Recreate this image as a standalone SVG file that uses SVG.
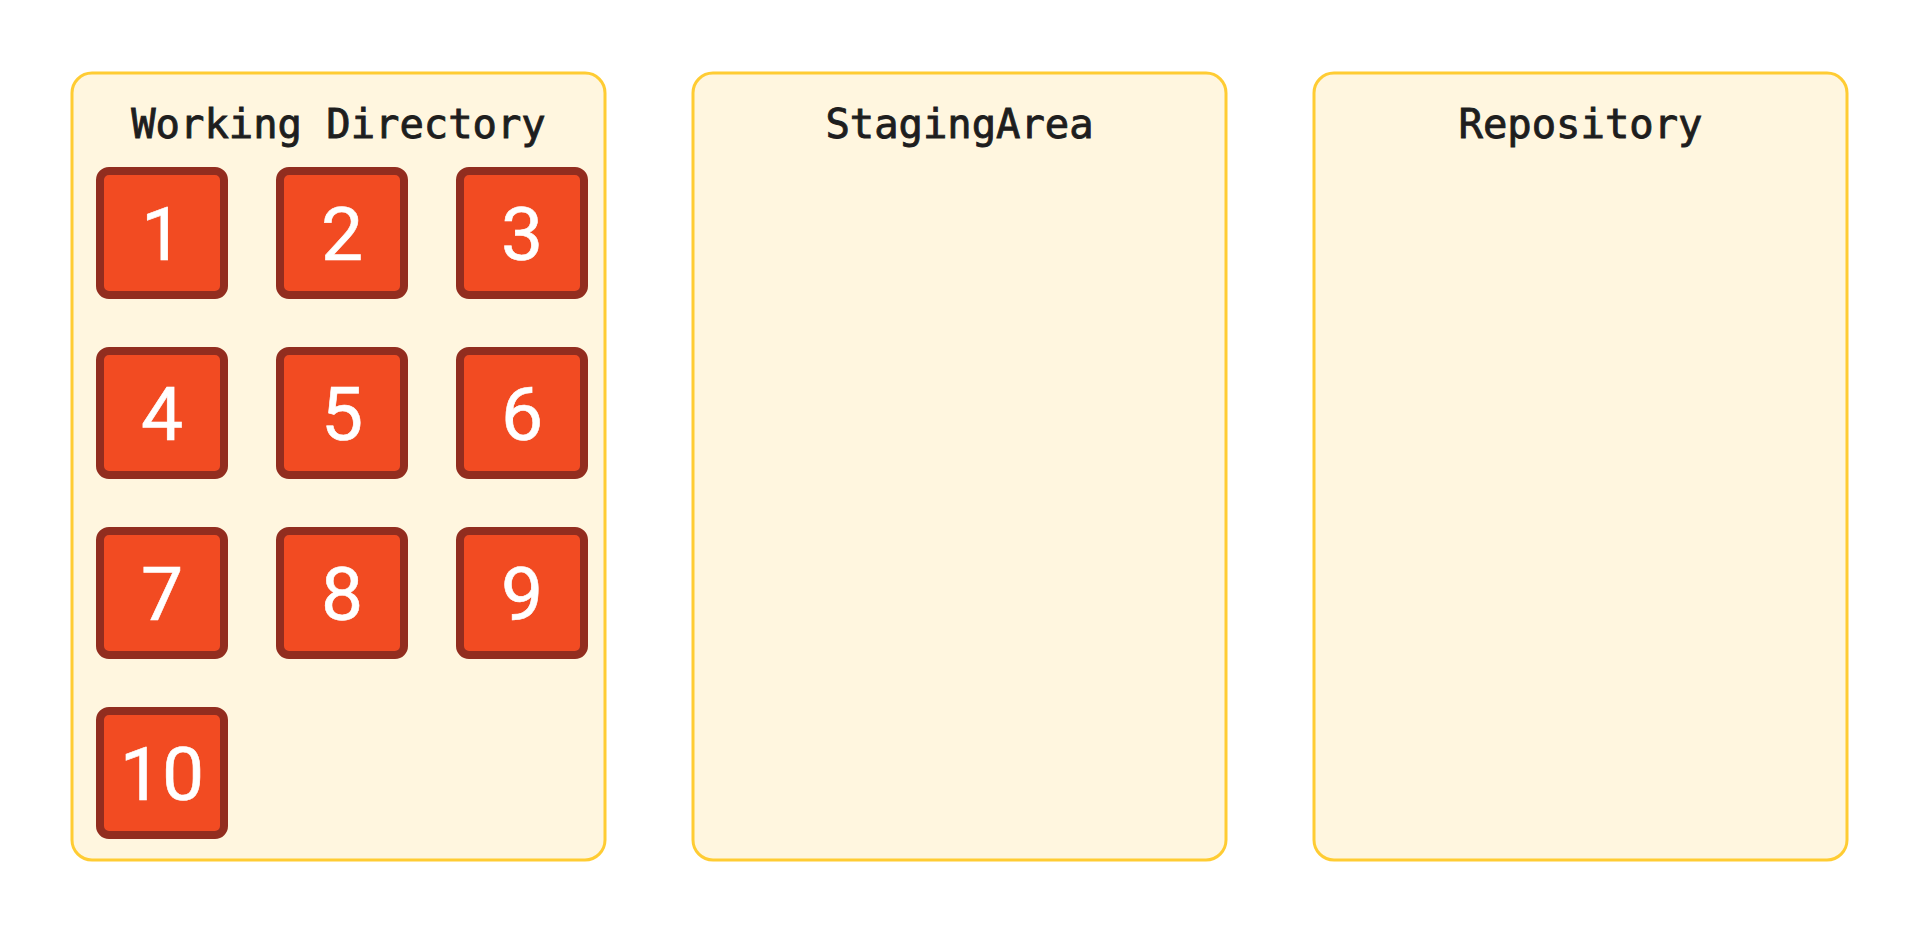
<svg xmlns="http://www.w3.org/2000/svg" width="1920" height="933" viewBox="0 0 1920 933">
<style>
.panel{fill:#FFF6DF;stroke:#FFCC33;stroke-width:3}
.title{font-family:"DejaVu Sans Mono","Liberation Mono",monospace;font-size:40.5px;fill:#1E1E1E;stroke:#1E1E1E;stroke-width:0.9;text-anchor:middle}
.box{fill:#F24B22;stroke:#922D1F;stroke-width:8}
.num{font-family:Roboto,"Liberation Sans",sans-serif;font-size:75px;fill:#FFFFFF;stroke:#FFFFFF;stroke-width:0.6;text-anchor:middle}
</style>
<rect width="1920" height="933" fill="#FFFFFF"/>
<g id="working-directory">
<rect class="panel" x="72" y="73" width="533" height="787" rx="20"/>
<text class="title" x="338.5" y="138">Working Directory</text>
</g>
<g id="staging-area">
<rect class="panel" x="693" y="73" width="533" height="787" rx="20"/>
<text class="title" x="959.5" y="138">StagingArea</text>
</g>
<g id="repository">
<rect class="panel" x="1314" y="73" width="533" height="787" rx="20"/>
<text class="title" x="1580.5" y="138">Repository</text>
</g>
<g id="file-1"><rect class="box" x="100" y="171" width="124" height="124" rx="9"/><text class="num" x="162" y="260">1</text></g>
<g id="file-2"><rect class="box" x="280" y="171" width="124" height="124" rx="9"/><text class="num" x="342" y="260">2</text></g>
<g id="file-3"><rect class="box" x="460" y="171" width="124" height="124" rx="9"/><text class="num" x="522" y="260">3</text></g>
<g id="file-4"><rect class="box" x="100" y="351" width="124" height="124" rx="9"/><text class="num" x="162" y="440">4</text></g>
<g id="file-5"><rect class="box" x="280" y="351" width="124" height="124" rx="9"/><text class="num" x="342" y="440">5</text></g>
<g id="file-6"><rect class="box" x="460" y="351" width="124" height="124" rx="9"/><text class="num" x="522" y="440">6</text></g>
<g id="file-7"><rect class="box" x="100" y="531" width="124" height="124" rx="9"/><text class="num" x="162" y="620">7</text></g>
<g id="file-8"><rect class="box" x="280" y="531" width="124" height="124" rx="9"/><text class="num" x="342" y="620">8</text></g>
<g id="file-9"><rect class="box" x="460" y="531" width="124" height="124" rx="9"/><text class="num" x="522" y="620">9</text></g>
<g id="file-10"><rect class="box" x="100" y="711" width="124" height="124" rx="9"/><text class="num" x="162" y="800">10</text></g>
<g id="connectors"/>
</svg>
